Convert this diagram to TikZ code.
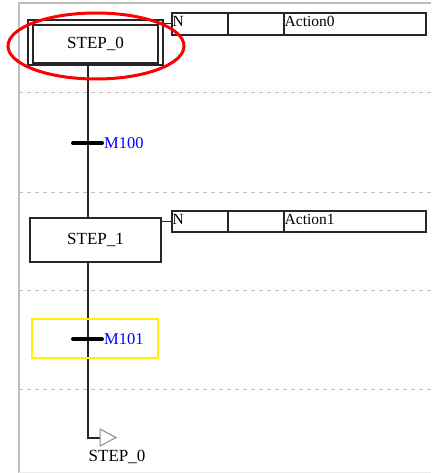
\documentclass[tikz,border=0pt]{standalone}
\usepackage{fontspec}
\setmainfont{Liberation Serif}
\begin{document}
\begin{tikzpicture}[x=1pt,y=-1pt,
  stepbox/.style={draw=black!85,line width=1.3pt,rectangle,inner sep=0pt,font=\fontsize{17}{17}\selectfont},
  actbox/.style={draw=black!85,line width=1.2pt,rectangle,inner sep=0pt},
  acttxt/.style={inner sep=0pt,anchor=west,font=\fontsize{15.5}{15.5}\selectfont},
  flow/.style={draw=black!85,line width=1.3pt},
  tbar/.style={draw=black,line width=4pt,line cap=round},
  tlabel/.style={inner sep=0pt,anchor=west,text=blue,font=\fontsize{16.5}{16.5}\selectfont},
  grid/.style={draw=black!25,line width=1pt,dash pattern=on 4pt off 4pt},
  frame/.style={draw=black!25,line width=1.5pt}]
\useasboundingbox (0,0) rectangle (431,473);
% frame
\draw[frame] (431,3) -- (19,3) -- (19,473);
\draw[draw=black!8,line width=1pt] (19,472) -- (431,472);
% grid lines
\foreach \yy in {93,192,290,389} \draw[grid] (19,\yy) -- (431,\yy);
% STEP_0 (initial step, double box)
\node[stepbox,minimum width=135pt,minimum height=45pt] (s0o) at (95.5,42.5) {};
\node[stepbox,minimum width=125pt,minimum height=38pt] (s0) at (95.5,44) {STEP\_0};
% Action0
\node[actbox,minimum width=254pt,minimum height=22pt] (a0) at (299,24) {};
\draw[actbox] (228,13) -- (228,35);
\draw[actbox] (284,13) -- (284,35);
\node[acttxt] (a0n) at (172.5,21.5) {N};
\node[acttxt] (a0t) at (284.5,21.5) {Action0};
\coordinate (c0) at (s0o.east |- a0.west);
\draw[flow,line width=1pt] (c0) -- (a0.west);
% STEP_1
\node[stepbox,minimum width=131pt,minimum height=44pt] (s1) at (95.5,240) {STEP\_1};
\node[actbox,minimum width=254pt,minimum height=21pt] (a1) at (299,221.5) {};
\draw[actbox] (228,211) -- (228,232);
\draw[actbox] (284,211) -- (284,232);
\node[acttxt] (a1n) at (172.5,219) {N};
\node[acttxt] (a1t) at (284.5,219) {Action1};
\coordinate (c1) at (s1.east |- a1.west);
\draw[flow,line width=1pt] (c1) -- (a1.west);
% flow line
\coordinate (v0) at (88,65);
\coordinate (v1) at (88,218);
\coordinate (v2) at (88,262);
\coordinate (v3) at (88,438);
\coordinate (v4) at (100,438);
\draw[flow] (v0) -- (v1);
\draw[flow] (v2) -- (v3) -- (v4);
% transitions
\coordinate (t0l) at (73,143);
\coordinate (t0r) at (102,143);
\draw[tbar] (t0l) -- (t0r);
\node[tlabel] (m100) at (104,143.5) {M100};
\node[draw=yellow,line width=2pt,minimum width=126pt,minimum height=39pt,inner sep=0pt] (sel) at (95,338.5) {};
\coordinate (t1l) at (73,339);
\coordinate (t1r) at (102,339);
\draw[tbar] (t1l) -- (t1r);
\node[tlabel] (m101) at (104,339.5) {M101};
% jump
\draw[draw=black!45,line width=1pt,fill=white] (100,429) -- (116,437.5) -- (100,446) -- cycle;
\node[inner sep=0pt,font=\fontsize{17}{17}\selectfont] (j0) at (117,457) {STEP\_0};
% highlight ellipse
\draw[red,line width=3pt] (96,46) ellipse [x radius=88pt,y radius=33pt];
\end{tikzpicture}
\end{document}
